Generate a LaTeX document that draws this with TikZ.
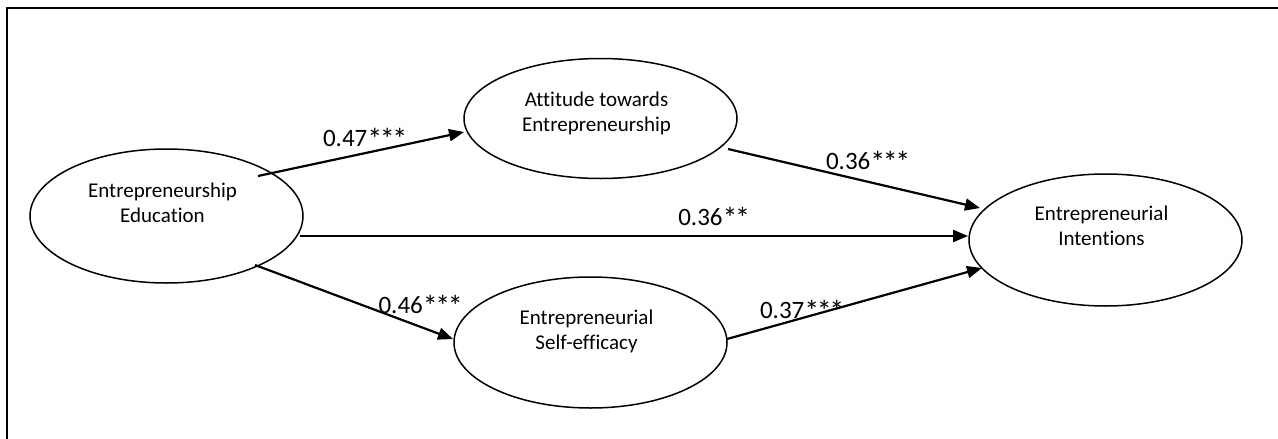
\documentclass[tikz,border=0pt]{standalone}
\usepackage{fontspec}
\setmainfont{Carlito}[Ligatures=NoCommon]
\usetikzlibrary{shapes.geometric,arrows.meta,calc}
\newcommand{\sigstar}{\raisebox{-3.5pt}{\fontsize{30}{30}\selectfont *}\kern-2.4pt}
\tikzset{
  construct/.style={ellipse, draw, line width=1.5pt, inner sep=0pt, minimum width=273pt},
  ctext/.style={align=center, inner sep=0pt, font=\fontsize{21}{25.5}\selectfont},
  path/.style={line width=2.2pt, -{Triangle[length=15pt,width=12pt]}},
  coef/.style={anchor=base, inner sep=0pt, font=\fontsize{25}{30}\selectfont},
  frame/.style={line width=2pt}
}
\begin{document}
\begin{tikzpicture}[x=1pt,y=-1pt]
\useasboundingbox (0,0) rectangle (1278,439);
\draw[frame] (7,439) -- (7,7.5) -- (1278,7.5);

\node[construct, minimum height=134pt] (ee) at (166.5,216) {};
\node[construct, minimum height=120pt] (att) at (600.5,118.5) {};
\node[construct, minimum height=131pt] (se) at (590.5,342.5) {};
\node[construct, minimum height=132pt] (ei) at (1105.5,240) {};

\node[ctext] (eet) at ($(ee.center)+(-4,-13)$) {Entrepreneurship\\Education};
\node[ctext] (attt) at ($(att.center)+(-4,-5)$) {Attitude towards\\Entrepreneurship};
\node[ctext] (set) at ($(se.center)+(-4,-11)$) {Entrepreneurial\\Self-efficacy};
\node[ctext] (eit) at ($(ei.center)+(-4,-14)$) {Entrepreneurial\\Intentions};

\draw[path] ($(ee.center)+(91.5,-40)$) -- ($(att.center)+(-136.5,13.5)$);
\draw[path] ($(att.center)+(127.5,30.5)$) -- ($(ei.center)+(-125.5,-32)$);
\draw[path] ($(ee.center)+(133.5,20)$) -- ($(ei.center)+(-137.5,-4)$);
\draw[path] ($(ee.center)+(88.5,49)$) -- ($(se.center)+(-137.5,-3.5)$);
\draw[path] ($(se.center)+(136.5,-3.5)$) -- ($(ei.center)+(-123.5,28)$);

\node[coef] (c1) at (364,146) {0.47\sigstar\sigstar\sigstar};
\node[coef] (c2) at (867,169) {0.36\sigstar\sigstar\sigstar};
\node[coef] (c3) at (713,225) {0.36\sigstar\sigstar};
\node[coef] (c4) at (419.5,313) {0.46\sigstar\sigstar\sigstar};
\node[coef] (c5) at (801,318) {0.37\sigstar\sigstar\sigstar};
\end{tikzpicture}
\end{document}
